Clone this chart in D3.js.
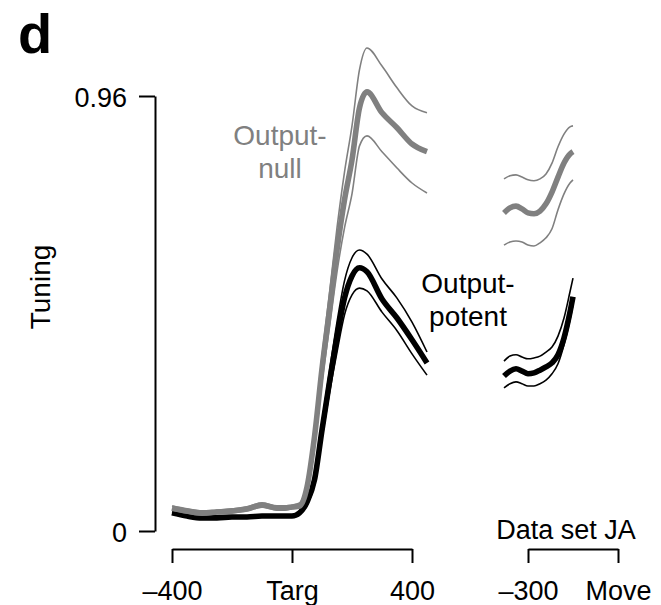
<!DOCTYPE html>
<html>
<head>
<meta charset="utf-8">
<script src="https://cdn.jsdelivr.net/npm/d3@7"></script>
<style>
  html, body { margin: 0; padding: 0; background: #fff; }
  svg { display: block; }
  text { font-family: "Liberation Sans", Arial, Helvetica, sans-serif; }
</style>
</head>
<body>
<svg id="chart" width="661" height="605"></svg>
<script>
// Time axis aligned to target onset (ms)
const timesTarg = [-400, -350, -300, -250, -200, -150, -100, -50, -25, 0, 25, 50, 75, 100,
                   125, 150, 175, 200, 225, 250, 300, 350, 400, 450];
// Output-null tuning: mean and mean ± s.e.m.
const nullMeanTarg  = [0.051, 0.044, 0.040, 0.042, 0.044, 0.049, 0.057, 0.051, 0.051, 0.053, 0.055, 0.097,
                       0.208, 0.358, 0.488, 0.620, 0.731, 0.819, 0.934, 0.969, 0.923, 0.890, 0.854, 0.837];
const nullUpperTarg = [0.055, 0.049, 0.044, 0.046, 0.049, 0.053, 0.062, 0.055, 0.055, 0.057, 0.062, 0.108,
                       0.227, 0.386, 0.525, 0.669, 0.792, 0.894, 1.018, 1.066, 1.026, 0.978, 0.938, 0.923];
const nullLowerTarg = [0.046, 0.040, 0.035, 0.038, 0.040, 0.044, 0.053, 0.046, 0.046, 0.049, 0.051, 0.086,
                       0.188, 0.329, 0.450, 0.572, 0.669, 0.744, 0.850, 0.872, 0.837, 0.801, 0.768, 0.746];
// Output-potent tuning: mean and mean ± s.e.m.
const potMeanTarg   = [0.040, 0.033, 0.029, 0.029, 0.031, 0.031, 0.033, 0.033, 0.033, 0.033, 0.040, 0.064,
                       0.113, 0.223, 0.329, 0.428, 0.514, 0.563, 0.581, 0.572, 0.512, 0.470, 0.422, 0.371];
const potUpperTarg  = [0.042, 0.035, 0.031, 0.031, 0.033, 0.033, 0.035, 0.035, 0.035, 0.035, 0.042, 0.071,
                       0.124, 0.241, 0.353, 0.461, 0.552, 0.603, 0.620, 0.611, 0.556, 0.514, 0.461, 0.395];
const potLowerTarg  = [0.038, 0.031, 0.026, 0.026, 0.029, 0.029, 0.031, 0.031, 0.031, 0.031, 0.038, 0.057,
                       0.102, 0.205, 0.305, 0.395, 0.477, 0.521, 0.536, 0.530, 0.483, 0.442, 0.391, 0.344];

// Time axis aligned to movement onset (ms)
const timesMove = [-380, -360, -340, -320, -300, -280, -260, -240, -220, -200, -180, -160, -150];
const nullMeanMove  = [0.702, 0.713, 0.717, 0.711, 0.702, 0.700, 0.706, 0.722, 0.748, 0.781, 0.812, 0.832, 0.837];
const nullUpperMove = [0.777, 0.784, 0.786, 0.781, 0.775, 0.773, 0.777, 0.788, 0.812, 0.848, 0.876, 0.892, 0.894];
const nullLowerMove = [0.631, 0.638, 0.640, 0.638, 0.631, 0.629, 0.636, 0.647, 0.667, 0.709, 0.744, 0.768, 0.775];
const potMeanMove   = [0.342, 0.353, 0.358, 0.353, 0.347, 0.349, 0.355, 0.362, 0.371, 0.389, 0.426, 0.483, 0.517];
const potUpperMove  = [0.375, 0.386, 0.389, 0.384, 0.380, 0.382, 0.386, 0.395, 0.406, 0.430, 0.470, 0.528, 0.558];
const potLowerMove  = [0.316, 0.325, 0.329, 0.325, 0.320, 0.320, 0.325, 0.333, 0.347, 0.369, 0.411, 0.466, 0.499];

// Axis ticks and labels
const yTicks = [0, 0.96];
const yTickLabels = ["0", "0.96"];
const xTargTicks = [-400, 0, 400];
const xTargLabels = ["\u2013400", "Targ", "400"];
const xMoveTicks = [-300, 0];
const xMoveLabels = ["\u2013300", "Move"];

const GRAY = "#808080";
const BLACK = "#000000";
const FONT = 27;

const svg = d3.select("#chart");

const y = d3.scaleLinear().domain([0, 0.96]).range([531, 96]);
const xTarg = d3.scaleLinear().domain([-400, 400]).range([172, 412]);
const xMove = d3.scaleLinear().domain([-300, 0]).range([528, 618]);

function styleAxis(g) {
  g.attr("font-size", null).attr("font-family", null);
  g.selectAll("path, line").attr("stroke", "#000").attr("stroke-width", 2);
  g.selectAll("text").attr("fill", "#000").style("font-size", FONT + "px");
}

// Y axis
svg.append("g")
  .attr("transform", "translate(155,0)")
  .call(d3.axisLeft(y).tickValues(yTicks)
    .tickFormat((d, i) => yTickLabels[i])
    .tickSize(16).tickSizeOuter(0).tickPadding(12))
  .call(styleAxis)
  .call(g => g.selectAll("text").attr("dy", "0.38em"));

// X axis: target-aligned epoch
svg.append("g")
  .attr("transform", "translate(0,549)")
  .call(d3.axisBottom(xTarg).tickValues(xTargTicks)
    .tickFormat((d, i) => xTargLabels[i])
    .tickSize(14).tickSizeOuter(0).tickPadding(18))
  .call(styleAxis);

// X axis: movement-aligned epoch
svg.append("g")
  .attr("transform", "translate(0,549)")
  .call(d3.axisBottom(xMove).tickValues(xMoveTicks)
    .tickFormat((d, i) => xMoveLabels[i])
    .tickSize(14).tickSizeOuter(0).tickPadding(18))
  .call(styleAxis);

// Traces
function drawTrace(times, values, xs, color, width) {
  const line = d3.line()
    .x((d, i) => xs(times[i]))
    .y(d => y(d))
    .curve(d3.curveMonotoneX);
  svg.append("path")
    .datum(values)
    .attr("d", line)
    .attr("fill", "none")
    .attr("stroke", color)
    .attr("stroke-width", width)
    .attr("stroke-linecap", "butt")
    .attr("stroke-linejoin", "round");
}

const THIN = 1.6, THICK = 5.6;

// Output-potent (black)
drawTrace(timesTarg, potUpperTarg, xTarg, BLACK, THIN);
drawTrace(timesTarg, potLowerTarg, xTarg, BLACK, THIN);
drawTrace(timesTarg, potMeanTarg, xTarg, BLACK, THICK);
drawTrace(timesMove, potUpperMove, xMove, BLACK, THIN);
drawTrace(timesMove, potLowerMove, xMove, BLACK, THIN);
drawTrace(timesMove, potMeanMove, xMove, BLACK, THICK);

// Output-null (gray)
drawTrace(timesTarg, nullUpperTarg, xTarg, GRAY, THIN);
drawTrace(timesTarg, nullLowerTarg, xTarg, GRAY, THIN);
drawTrace(timesTarg, nullMeanTarg, xTarg, GRAY, THICK);
drawTrace(timesMove, nullUpperMove, xMove, GRAY, THIN);
drawTrace(timesMove, nullLowerMove, xMove, GRAY, THIN);
drawTrace(timesMove, nullMeanMove, xMove, GRAY, THICK);

// Series labels
function label(lines, cx, baseline, color) {
  const t = svg.append("text")
    .attr("text-anchor", "middle")
    .attr("fill", color)
    .style("font-size", "28px");
  lines.forEach((s, i) => {
    t.append("tspan").attr("x", cx).attr("y", baseline + i * 33).text(s);
  });
}
label(["Output-", "null"], 280, 145, GRAY);
label(["Output-", "potent"], 468, 293, BLACK);

// Data set caption
svg.append("text")
  .attr("x", 566).attr("y", 539)
  .attr("text-anchor", "middle")
  .style("font-size", FONT + "px")
  .text("Data set JA");

// Y-axis title
svg.append("text")
  .attr("transform", "translate(50,287) rotate(-90)")
  .attr("text-anchor", "middle")
  .style("font-size", "28px")
  .text("Tuning");

// Panel letter
svg.append("text")
  .attr("x", 18).attr("y", 53)
  .style("font-size", "56px")
  .style("font-weight", "bold")
  .text("d");
</script>
</body>
</html>
